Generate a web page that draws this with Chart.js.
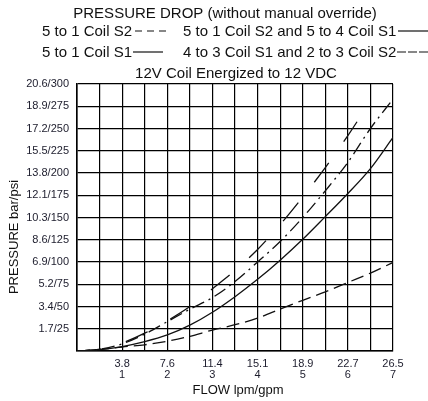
<!DOCTYPE html>
<html>
<head>
<meta charset="utf-8">
<script src="https://cdn.jsdelivr.net/npm/chart.js@4.4.1/dist/chart.umd.min.js"></script>
<style>
html,body{margin:0;padding:0;background:#fff;}
#wrap{position:relative;width:428px;height:401px;}
</style>
</head>
<body>
<div id="wrap"><canvas id="c" width="428" height="401"></canvas></div>
<script>
// ---- data ----
const flowGpm = [0, 0.5, 1, 1.5, 2, 2.5, 3, 3.5, 4, 4.5, 5, 5.5, 6, 6.5, 7];
const psi_5to1_S2 = [0, 1.5, 4.5, 7, 11, 16.5, 23.5, 29.5, 37, 47, 57, 66.5, 77, 87.5, 99.5];
const psi_5to1_S1 = [0, 1.5, 5, 10.5, 18, 29, 43.5, 61, 80.5, 102, 125.5, 151, 177, 205, 240];
const psi_4to3_2to3 = [0, 2, 8, 19, 33, 47, 60, 78, 100, 123, 150, 180, 212, 250, 283];
const flowGpm_S2S1 = [0, 0.5, 1, 1.5, 2, 2.5, 3, 3.5, 4, 4.5, 5, 5.5, 6, 6.45];
const psi_S2_S1 = [0, 2, 9, 20, 34, 50, 70, 90.5, 114, 142, 173, 206, 242, 277];

const xTickGpm = [1, 2, 3, 4, 5, 6, 7];
const xTickLpm = ['3.8', '7.6', '11.4', '15.1', '18.9', '22.7', '26.5'];
const yTickLabels = ['', '1.7/25', '3.4/50', '5.2/75', '6.9/100', '8.6/125', '10.3/150',
  '12.1/175', '13.8/200', '15.5/225', '17.2/250', '18.9/275', '20.6/300'];

const titleText = 'PRESSURE DROP (without manual override)';
const subtitleText = '12V Coil Energized to 12 VDC';
const legendLabels = ['5 to 1 Coil S2', '5 to 1 Coil S2 and 5 to 4 Coil S1', '5 to 1 Coil S1', '4 to 3 Coil S1 and 2 to 3 Coil S2'];
const xTitle = 'FLOW lpm/gpm';
const yTitle = 'PRESSURE bar/psi';

const FONT = '"Liberation Sans", Arial, Helvetica, sans-serif';
const INK = '#111';

function pts(xs, ys) { return xs.map((x, i) => ({ x: x, y: ys[i] })); }

const decor = {
  id: 'decor',
  afterDraw(chart) {
    const ctx = chart.ctx;
    const ca = chart.chartArea;
    ctx.save();
    ctx.fillStyle = INK;
    ctx.strokeStyle = INK;
    ctx.font = '15px ' + FONT;
    ctx.textBaseline = 'alphabetic';
    ctx.textAlign = 'center';
    ctx.fillText(titleText, 225, 18);
    ctx.fillText(subtitleText, 236, 78);
    ctx.textAlign = 'left';
    ctx.fillText(legendLabels[0], 42, 36);
    ctx.fillText(legendLabels[1], 183, 36);
    ctx.fillText(legendLabels[2], 42, 57);
    ctx.fillText(legendLabels[3], 183, 57);
    ctx.lineWidth = 1.2;
    const seg = (x1, x2, y, dash) => {
      ctx.beginPath(); ctx.setLineDash(dash);
      ctx.moveTo(x1, y); ctx.lineTo(x2, y); ctx.stroke();
    };
    seg(135, 168, 31, [7, 5]);
    seg(398, 428, 31, []);
    seg(133, 163, 52, []);
    seg(397, 428, 52, [9, 2]);
    ctx.setLineDash([]);
    // axis titles
    ctx.font = '13px ' + FONT;
    ctx.textAlign = 'center';
    ctx.textBaseline = 'middle';
    ctx.fillText(xTitle, 238, 390);
    ctx.translate(14, 237);
    ctx.rotate(-Math.PI / 2);
    ctx.fillText(yTitle, 0, 0);
    ctx.restore();
  }
};

const lineBase = { borderColor: INK, borderWidth: 1.3, pointRadius: 0, fill: false, cubicInterpolationMode: 'monotone' };

new Chart(document.getElementById('c'), {
  type: 'line',
  data: {
    datasets: [
      Object.assign({ label: legendLabels[0], data: pts(flowGpm, psi_5to1_S2), borderDash: [13, 6] }, lineBase),
      Object.assign({ label: legendLabels[1], data: pts(flowGpm_S2S1, psi_S2_S1), borderDash: [24, 26] }, lineBase),
      Object.assign({ label: legendLabels[2], data: pts(flowGpm, psi_5to1_S1), borderDash: [] }, lineBase),
      Object.assign({ label: legendLabels[3], data: pts(flowGpm, psi_4to3_2to3), borderDash: [13, 5, 2, 5] }, lineBase)
    ]
  },
  options: {
    responsive: false,
    animation: false,
    devicePixelRatio: 1,
    layout: { padding: { left: 0, right: 35, top: 84, bottom: 0 } },
    plugins: { legend: { display: false }, title: { display: false }, tooltip: { enabled: false } },
    scales: {
      x: {
        type: 'linear', min: 0, max: 7,
        afterFit(s) { s.height = 50; },
        grid: { color: '#000', lineWidth: 1.2, drawTicks: false },
        border: { color: '#000', width: 1.6 },
        ticks: {
          stepSize: 0.5, autoSkip: false, maxRotation: 0, padding: 7,
          color: '#1c1c2c', font: { family: FONT, size: 11, lineHeight: 1.0 },
          callback(v) {
            const i = xTickGpm.indexOf(v);
            return i >= 0 ? [xTickLpm[i], String(xTickGpm[i])] : '';
          }
        }
      },
      y: {
        type: 'linear', min: 0, max: 300,
        afterFit(s) { s.width = 77; },
        grid: { color: '#000', lineWidth: 1.2, drawTicks: false },
        border: { color: '#000', width: 1.6 },
        ticks: {
          stepSize: 25, autoSkip: false, padding: 8,
          color: '#1c1c2c', font: { family: FONT, size: 11 },
          callback(v) { return yTickLabels[Math.round(v / 25)]; }
        }
      }
    }
  },
  plugins: [decor]
});
</script>
</body>
</html>
